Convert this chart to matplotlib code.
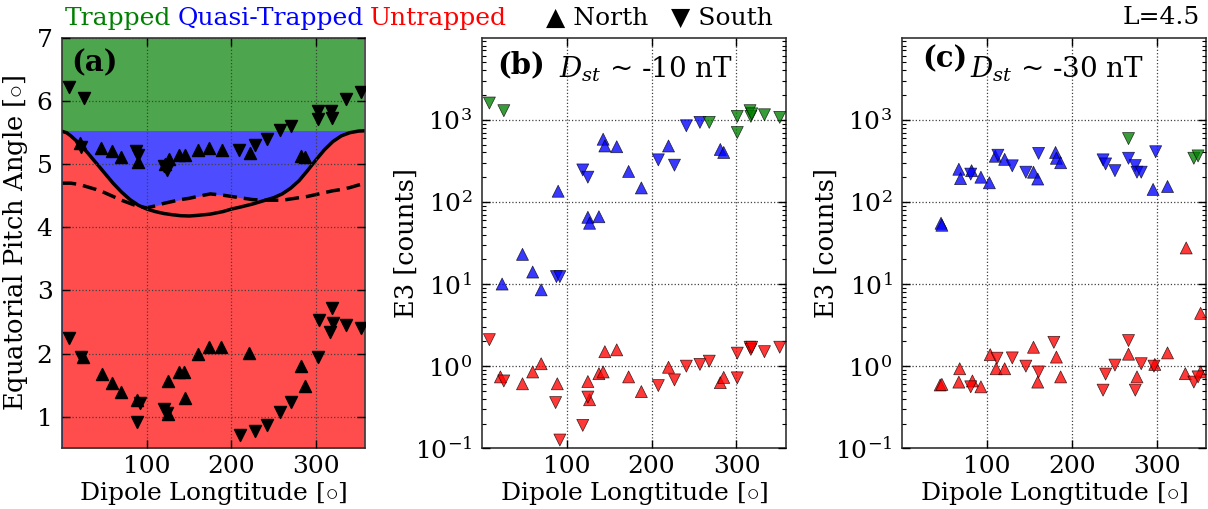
import matplotlib
matplotlib.use('Agg')
import matplotlib.pyplot as plt
import numpy as np
from matplotlib.ticker import LogLocator, NullFormatter

plt.rcParams['font.family'] = ['DejaVu Serif', 'DejaVu Sans']
plt.rcParams['mathtext.fontset'] = 'dejavuserif'
plt.rcParams['font.size'] = 18

# --- panel (a): loss-cone boundaries vs dipole longitude ---
curve_lon = [0, 5, 10, 15, 20, 30, 40, 50, 60, 70, 80, 90, 100, 110, 120, 130, 140, 150, 160,
             175, 190, 200, 210, 225, 240, 250, 260, 270, 280, 290, 300, 310, 320, 330, 340, 350, 357]
bounce_lc = [5.52, 5.50, 5.45, 5.39, 5.33, 5.18, 5.02, 4.86, 4.70, 4.56, 4.44, 4.35, 4.29, 4.25,
             4.22, 4.20, 4.185, 4.18, 4.19, 4.21, 4.25, 4.29, 4.32, 4.37, 4.43, 4.47, 4.53, 4.62,
             4.74, 4.90, 5.07, 5.23, 5.36, 5.45, 5.50, 5.525, 5.53]
local_lc = [4.70, 4.70, 4.70, 4.69, 4.68, 4.64, 4.60, 4.55, 4.49, 4.43, 4.38, 4.33, 4.31, 4.34,
            4.38, 4.41, 4.44, 4.46, 4.49, 4.53, 4.51, 4.49, 4.47, 4.44, 4.43, 4.43, 4.43, 4.45,
            4.47, 4.49, 4.52, 4.55, 4.58, 4.60, 4.63, 4.67, 4.69]
trapped_edge = 5.52

# pitch angles, north-going (up) and south-going (down) passes
a_north_lon = [21, 46, 59, 69, 89, 122, 126, 138, 145, 160, 173, 189, 222, 282, 287,
               24, 47, 59, 69, 88, 125, 125, 138, 144, 145, 160, 173, 188, 221, 282, 287]
a_north_pa = [5.33, 5.26, 5.21, 5.12, 5.04, 5.00, 5.08, 5.14, 5.14, 5.23, 5.26, 5.22, 5.18, 5.13, 5.11,
              1.95, 1.68, 1.53, 1.39, 1.27, 1.56, 1.04, 1.71, 1.71, 1.29, 1.99, 2.10, 2.10, 2.01, 1.80, 1.49]
a_south_lon = [8, 26, 302, 302, 318, 319, 335, 353,
               22, 87, 90, 120, 124, 209, 228, 242, 258, 270,
               8, 22, 92, 88, 120, 124, 210, 228, 242, 258, 270, 302, 303, 319, 320, 317, 335, 353]
a_south_pa = [6.23, 6.05, 5.84, 5.71, 5.85, 5.73, 6.04, 6.15,
              5.28, 5.21, 5.14, 4.98, 4.91, 5.22, 5.31, 5.40, 5.55, 5.61,
              2.24, 1.95, 1.21, 0.92, 1.13, 1.06, 0.71, 0.77, 0.87, 1.08, 1.24, 1.94, 2.53, 2.72,
              2.48, 2.35, 2.46, 2.41]

# --- panel (b): Dst ~ -10 nT ---
b_north_lon = [24, 48, 60, 70, 90, 125, 127, 138, 143, 145, 159, 173, 188, 220, 281, 285,
               22, 48, 60, 70, 89, 125, 127, 138, 143, 145, 159, 173, 188, 220, 281, 285]
b_north_cnt = [10, 23, 14, 8.5, 135, 65, 55, 66, 580, 480, 470, 235, 148, 480, 435, 400,
               0.74, 0.61, 0.85, 1.07, 0.61, 0.65, 0.39, 0.81, 0.85, 1.5, 1.58, 0.74, 0.49, 0.97, 0.63, 0.73]
b_north_reg = ['Q'] * 16 + ['U'] * 16
b_south_lon = [9, 26, 88, 92, 119, 125, 208, 227, 241, 257, 268, 301, 301, 316, 317, 318, 333, 351,
               9, 26, 87, 92, 119, 125, 208, 227, 241, 257, 268, 301, 301, 316, 317, 318, 333, 351]
b_south_cnt = [1600, 1290, 12.3, 12.3, 245, 200, 325, 280, 845, 930, 930, 700, 1100, 1290, 1100, 1180, 1150, 1070,
               2.1, 0.66, 0.36, 0.126, 0.19, 0.42, 0.58, 0.68, 1.0, 1.05, 1.15, 0.72, 1.44, 1.7, 1.6, 1.7, 1.5, 1.7]
b_south_reg = (['T', 'T', 'Q', 'Q', 'Q', 'Q', 'Q', 'Q', 'Q', 'Q', 'T', 'T', 'T', 'T', 'T', 'T', 'T', 'T']
               + ['U'] * 18)

# --- panel (c): Dst ~ -30 nT ---
c_north_lon = [46, 47, 67, 69, 82, 93, 103, 110, 121, 155, 160, 181, 182, 187, 296, 313, 335, 352,
               45, 47, 68, 67, 83, 93, 104, 111, 121, 155, 160, 182, 187, 267, 277, 298, 313, 334, 352]
c_north_cnt = [55, 52, 250, 192, 240, 200, 171, 360, 330, 230, 190, 400, 340, 300, 142, 154, 27.5, 4.4,
               0.59, 0.6, 0.93, 0.64, 0.66, 0.56, 1.38, 0.93, 0.93, 1.7, 0.64, 1.29, 0.74, 1.4, 0.74, 1.05,
               1.45, 0.81, 0.85]
c_north_reg = ['Q'] * 16 + ['U'] * 21
c_south_lon = [81, 113, 130, 146, 161, 237, 240, 251, 267, 267, 275, 277, 282, 299, 344, 349,
               81, 112, 130, 146, 161, 179, 237, 240, 251, 267, 275, 282, 297, 344, 349]
c_south_cnt = [218, 370, 275, 230, 390, 325, 290, 240, 590, 340, 277, 230, 230, 408, 340, 363,
               0.56, 1.25, 1.26, 1.0, 0.85, 1.95, 0.51, 0.8, 1.03, 2.05, 0.51, 1.07, 1.0, 0.64, 0.74]
c_south_reg = ['Q'] * 8 + ['T'] + ['Q'] * 5 + ['T', 'T'] + ['U'] * 15

region_colors = {'T': 'g', 'Q': 'b', 'U': 'r'}
# region fills: the same hues at 70 % over white, kept opaque so the bands butt cleanly
fill_green = '#4da64d'
fill_blue = '#4d4dff'
fill_red = '#ff4d4d'

XLIM = (0, 358)
LON_LABEL = r'Dipole Longtitude [$\circ$]'


def style_axis(ax):
    ax.set_xlim(*XLIM)
    ax.set_xticks([100, 200, 300])
    ax.tick_params(which='both', direction='in', top=True, right=True, labelsize=18)
    ax.tick_params(axis='x', pad=5)
    ax.tick_params(axis='y', pad=7)
    ax.tick_params(which='major', length=6, width=1)
    ax.tick_params(which='minor', length=3, width=0.8)
    ax.grid(True, which='major', color='0.25', linestyle=':', linewidth=0.9)
    ax.set_axisbelow(False)
    for s in ax.spines.values():
        s.set_color('0.2')
        s.set_linewidth(1.2)
    ax.set_xlabel(LON_LABEL, fontsize=18, labelpad=1, math_fontfamily='cm')


def scatter_counts(ax, lon, cnt, reg, marker):
    cols = [region_colors[r] for r in reg]
    ax.scatter(lon, cnt, marker=marker, c=cols, s=75, alpha=0.78,
               edgecolors='k', linewidths=0.5, zorder=3)


fig = plt.figure(figsize=(12.08, 5.09), dpi=100)
ax_a = fig.add_axes([0.0516, 0.1193, 0.2506, 0.806])
ax_b = fig.add_axes([0.3988, 0.1193, 0.2516, 0.806])
ax_c = fig.add_axes([0.7467, 0.1193, 0.2514, 0.806])

# panel (a)
lower = np.maximum(bounce_lc, local_lc)
ax_a.fill_between(curve_lon, 0.5, 7, color=fill_green, lw=0)
ax_a.fill_between(curve_lon, 0.5, trapped_edge, color=fill_blue, lw=0)
ax_a.fill_between(curve_lon, 0.5, lower, color=fill_red, lw=0)
ax_a.plot(curve_lon, bounce_lc, color='k', lw=2.5)
ax_a.plot(curve_lon, local_lc, color='k', lw=2.5, ls='--', dashes=(4, 2))
ax_a.scatter(a_north_lon, a_north_pa, marker='^', c='k', s=75, zorder=4)
ax_a.scatter(a_south_lon, a_south_pa, marker='v', c='k', s=75, zorder=4)
ax_a.set_ylim(0.5, 7)
ax_a.set_yticks([1, 2, 3, 4, 5, 6, 7])
style_axis(ax_a)
ax_a.set_ylabel(r'Equatorial Pitch Angle [$\circ$]', fontsize=18.5, labelpad=5,
                math_fontfamily='cm')
ax_a.text(0.03, 0.975, '(a)', transform=ax_a.transAxes, fontsize=21, fontweight='bold',
          va='top', ha='left')

# panels (b) and (c)
for ax, nl, nc, nr, sl, sc, sr in [
        (ax_b, b_north_lon, b_north_cnt, b_north_reg, b_south_lon, b_south_cnt, b_south_reg),
        (ax_c, c_north_lon, c_north_cnt, c_north_reg, c_south_lon, c_south_cnt, c_south_reg)]:
    ax.set_yscale('log')
    scatter_counts(ax, nl, nc, nr, '^')
    scatter_counts(ax, sl, sc, sr, 'v')
    ax.set_ylim(0.1, 9.9e3)
    ax.yaxis.set_major_locator(LogLocator(base=10, numticks=10))
    ax.yaxis.set_minor_locator(LogLocator(base=10, subs=np.arange(2, 10), numticks=10))
    ax.yaxis.set_minor_formatter(NullFormatter())
    style_axis(ax)
    ax.set_ylabel('E3 [counts]', fontsize=18.5, labelpad=-3)

ax_b.text(0.05, 0.97, '(b)', transform=ax_b.transAxes, fontsize=21, fontweight='bold',
          va='top', ha='left')
ax_b.text(0.255, 0.96, r'$D_{st}$ ~ -10 nT', transform=ax_b.transAxes, fontsize=20,
          va='top', ha='left')
ax_c.text(0.065, 0.985, '(c)', transform=ax_c.transAxes, fontsize=21, fontweight='bold',
          va='top', ha='left')
ax_c.text(0.225, 0.96, r'$D_{st}$ ~ -30 nT', transform=ax_c.transAxes, fontsize=20,
          va='top', ha='left')

# header line with region key and hemisphere markers
hy = 1 - 18 / 509
fig.text(65 / 1208, hy, 'Trapped', color='g', fontsize=18, va='center')
fig.text(178 / 1208, hy, 'Quasi-Trapped', color='b', fontsize=18, va='center')
fig.text(370 / 1208, hy, 'Untrapped', color='r', fontsize=18, va='center')
fig.text(546 / 1208, hy, '\u25b2 North', color='k', fontsize=18, va='center')
fig.text(671 / 1208, hy, '\u25bc South', color='k', fontsize=18, va='center')
fig.text(1200 / 1208, hy, 'L=4.5', color='k', fontsize=18, va='center', ha='right')

fig.savefig('out.png', dpi=100, facecolor='white')
